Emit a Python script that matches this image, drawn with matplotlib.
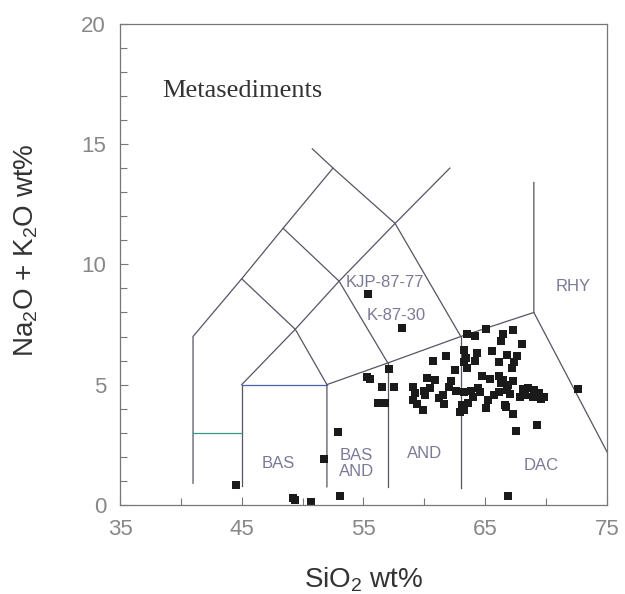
import numpy as np
import matplotlib
matplotlib.use('Agg')
import matplotlib.pyplot as plt

plt.rcParams['font.family'] = ['Liberation Sans', 'DejaVu Sans']
plt.rcParams['mathtext.default'] = 'regular'

# sample points (SiO2, Na2O+K2O)
sio2 = [44.5, 49.2, 49.4, 50.7, 53.1, 66.9, 51.8, 52.9,
        55.3, 55.5, 56.2, 56.6, 56.8, 56.5, 57.5, 57.1,
        55.34, 58.14,
        63.5, 64.2, 65.1, 66.5, 66.3, 67.3, 68.0,
        63.3, 65.6, 66.8, 67.6, 61.8, 60.7, 63.3, 64.2, 66.1, 67.4, 63.5, 67.2, 62.5,
        60.2, 60.9, 62.2, 64.7, 65.4, 66.1, 66.5, 67.25,
        59.1, 60.5, 62.6, 63.3, 64.4, 64.0, 61.55, 59.2, 60.05, 59.1, 59.4, 59.9,
        61.6, 63.1, 63.6, 62.9, 63.3, 65.1, 65.25, 65.7, 66.1, 66.8, 66.6, 66.7,
        67.25, 67.5, 69.3, 68.1, 68.5, 69.0, 69.4, 69.8, 67.85, 72.6,
        63.8, 64.6, 66.3, 66.9, 67.0, 68.3, 68.9, 69.6, 61.2, 62.0, 60.0, 64.3, 63.4]
alk = [0.83, 0.30, 0.21, 0.14, 0.37, 0.35, 1.91, 3.01,
       5.33, 5.23, 4.23, 4.23, 4.23, 4.89, 4.89, 5.64,
       8.77, 7.37,
       7.11, 7.03, 7.30, 7.10, 6.82, 7.28, 6.68,
       6.42, 6.38, 6.24, 6.20, 6.20, 5.99, 5.96, 5.99, 5.96, 5.96, 5.71, 5.71, 5.61,
       5.27, 5.20, 5.16, 5.36, 5.23, 5.36, 5.20, 5.13,
       4.89, 4.85, 4.75, 4.71, 4.85, 4.50, 4.57, 4.64, 4.57, 4.37, 4.20, 3.95,
       4.20, 4.16, 4.23, 3.88, 3.95, 4.02, 4.37, 4.57, 4.71, 4.78, 4.16, 4.05,
       3.77, 3.08, 3.33, 4.81, 4.88, 4.78, 4.67, 4.50, 4.50, 4.82,
       4.75, 4.68, 5.05, 5.00, 4.60, 4.55, 4.50, 4.40, 4.45, 4.90, 4.75, 6.30, 6.10]

# TAS field boundaries (Le Bas et al. 1986), truncated as in the figure
tas_lines = [
    [(41, 0.9), (41, 7), (45, 9.4), (48.4, 11.5), (52.5, 14), (50.8, 14.8)],
    [(45, 0.8), (45, 5)],
    [(45, 5), (49.4, 7.3), (53, 9.3), (57.6, 11.7), (62.1, 14.0)],
    [(45, 9.4), (49.4, 7.3), (52, 5)],
    [(48.4, 11.5), (53, 9.3), (57, 5.9)],
    [(52.5, 14), (57.6, 11.7), (63, 7)],
    [(52, 0.75), (52, 5), (57, 5.9), (63, 7), (69, 8)],
    [(57, 0.75), (57, 5.9)],
    [(63, 0.7), (63, 7)],
    [(69, 13.4), (69, 8), (77.3, 0)],
]
picro_top = [(41, 3), (45, 3)]
basalt_top = [(45, 5), (52, 5)]

field_names = ['BAS', 'BAS\nAND', 'AND', 'DAC', 'RHY', 'KJP-87-77', 'K-87-30']
field_x = [48.0, 54.4, 60.0, 69.6, 72.2, 56.8, 57.7]
field_y = [1.73, 1.73, 2.15, 1.63, 9.08, 9.26, 7.87]

fig = plt.figure(figsize=(6.25, 5.94), dpi=100)
ax = fig.add_axes([0.192, 0.150, 0.779, 0.810])

for seg in tas_lines:
    xs, ys = zip(*seg)
    ax.plot(xs, ys, color='#555566', lw=0.9)
xs, ys = zip(*picro_top)
ax.plot(xs, ys, color='#3a9a8a', lw=0.9)
xs, ys = zip(*basalt_top)
ax.plot(xs, ys, color='#4a5fb0', lw=0.9)

ax.plot(sio2, alk, 's', color='#1a1a1a', markersize=6, markeredgewidth=0)

for name, fx, fy in zip(field_names, field_x, field_y):
    ax.text(fx, fy, name, ha='center', va='center', fontsize=12,
            color='#7a7a96', linespacing=1.1)

ax.text(38.5, 17.2, 'Metasediments', family='Liberation Serif', fontsize=19,
        color='#333333', ha='left', va='center')

ax.set_xlim(35, 75)
ax.set_ylim(0, 20)
ax.set_xticks([35, 45, 55, 65, 75])
ax.set_xticks([40, 50, 60, 70], minor=True)
ax.set_yticks([0, 5, 10, 15, 20])
ax.set_yticks(np.arange(0, 21, 1), minor=True)
ax.tick_params(which='both', direction='in', colors='#777777', labelcolor='#888888',
               labelsize=16, top=False, right=False)
ax.tick_params(which='major', length=6, width=0.8)
ax.tick_params(which='minor', length=5, width=0.8)
ax.tick_params(axis='x', pad=10)
ax.tick_params(axis='y', pad=10)
for sp in ax.spines.values():
    sp.set_color('#777777')
    sp.set_linewidth(0.9)

ax.set_xlabel('SiO$_2$ wt%', fontsize=20, color='#333333')
ax.set_ylabel('Na$_2$O + K$_2$O wt%', fontsize=20, color='#333333')
ax.xaxis.set_label_coords(0.5, -0.125)
ax.yaxis.set_label_coords(-0.165, 0.53)

fig.savefig('out.png', dpi=100)
